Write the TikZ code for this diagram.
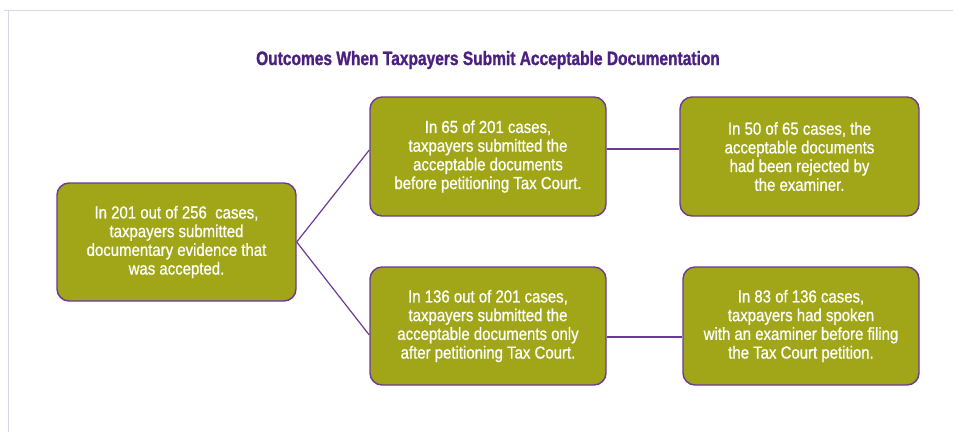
\documentclass[tikz,border=0pt]{standalone}
\usepackage{fontspec}
\setmainfont{Liberation Sans}[FakeStretch=0.86, FakeBold=0.8]
\newfontfamily\titlefont{Liberation Sans}[FakeStretch=0.8, FakeBold=1.2]
\definecolor{olive}{RGB}{160,166,24}
\definecolor{edgepurple}{RGB}{106,58,150}
\definecolor{titlepurple}{RGB}{75,32,128}
\definecolor{framecol}{RGB}{216,212,236}
\tikzset{
  box/.style={draw=edgepurple, line width=1.4pt, fill=olive, rounded corners=12pt,
    text=white, align=center, inner sep=0pt, font=\fontsize{17.4}{18.7}\selectfont},
  link/.style={draw=edgepurple, line width=1.2pt}
}
\begin{document}
\begin{tikzpicture}[x=1pt,y=-1pt]
\useasboundingbox (0,0) rectangle (953,432);
\draw[framecol, line width=1.6pt] (4,10.5) -- (953,10.5);
\draw[framecol, line width=1.6pt] (8.5,10) -- (8.5,432);
\node[font=\titlefont\bfseries\fontsize{19.4}{22}\selectfont, text=titlepurple] (title) at (488,60) {Outcomes When Taxpayers Submit Acceptable Documentation};
\node[box, minimum width=239pt, minimum height=118pt] (A) at (176.5,242) {In 201 out of 256\ \ cases,\\taxpayers submitted\\documentary evidence that\\was accepted.};
\node[box, minimum width=236pt, minimum height=119pt] (B) at (488,156.5) {In 65 of 201 cases,\\taxpayers submitted the\\acceptable documents\\before petitioning Tax Court.};
\node[box, minimum width=239pt, minimum height=119pt] (C) at (799.5,156.5) {In 50 of 65 cases, the\\acceptable documents\\had been rejected by\\the examiner.};
\node[box, minimum width=236pt, minimum height=118pt] (D) at (488,326) {In 136 out of 201 cases,\\taxpayers submitted the\\acceptable documents only\\after petitioning Tax Court.};
\node[box, minimum width=236pt, minimum height=118pt] (E) at (801,326) {In 83 of 136 cases,\\taxpayers had spoken\\with an examiner before filing\\the Tax Court petition.};
\draw[link] (A.east) -- ([yshift=6.5pt]B.west);
\draw[link] (A.east) -- ([yshift=-9pt]D.west);
\draw[link] ([yshift=7.5pt]B.east) -- ([yshift=7.5pt]B.east -| C.west);
\draw[link] ([yshift=-11pt]D.east) -- ([yshift=-11pt]D.east -| E.west);
\end{tikzpicture}
\end{document}
